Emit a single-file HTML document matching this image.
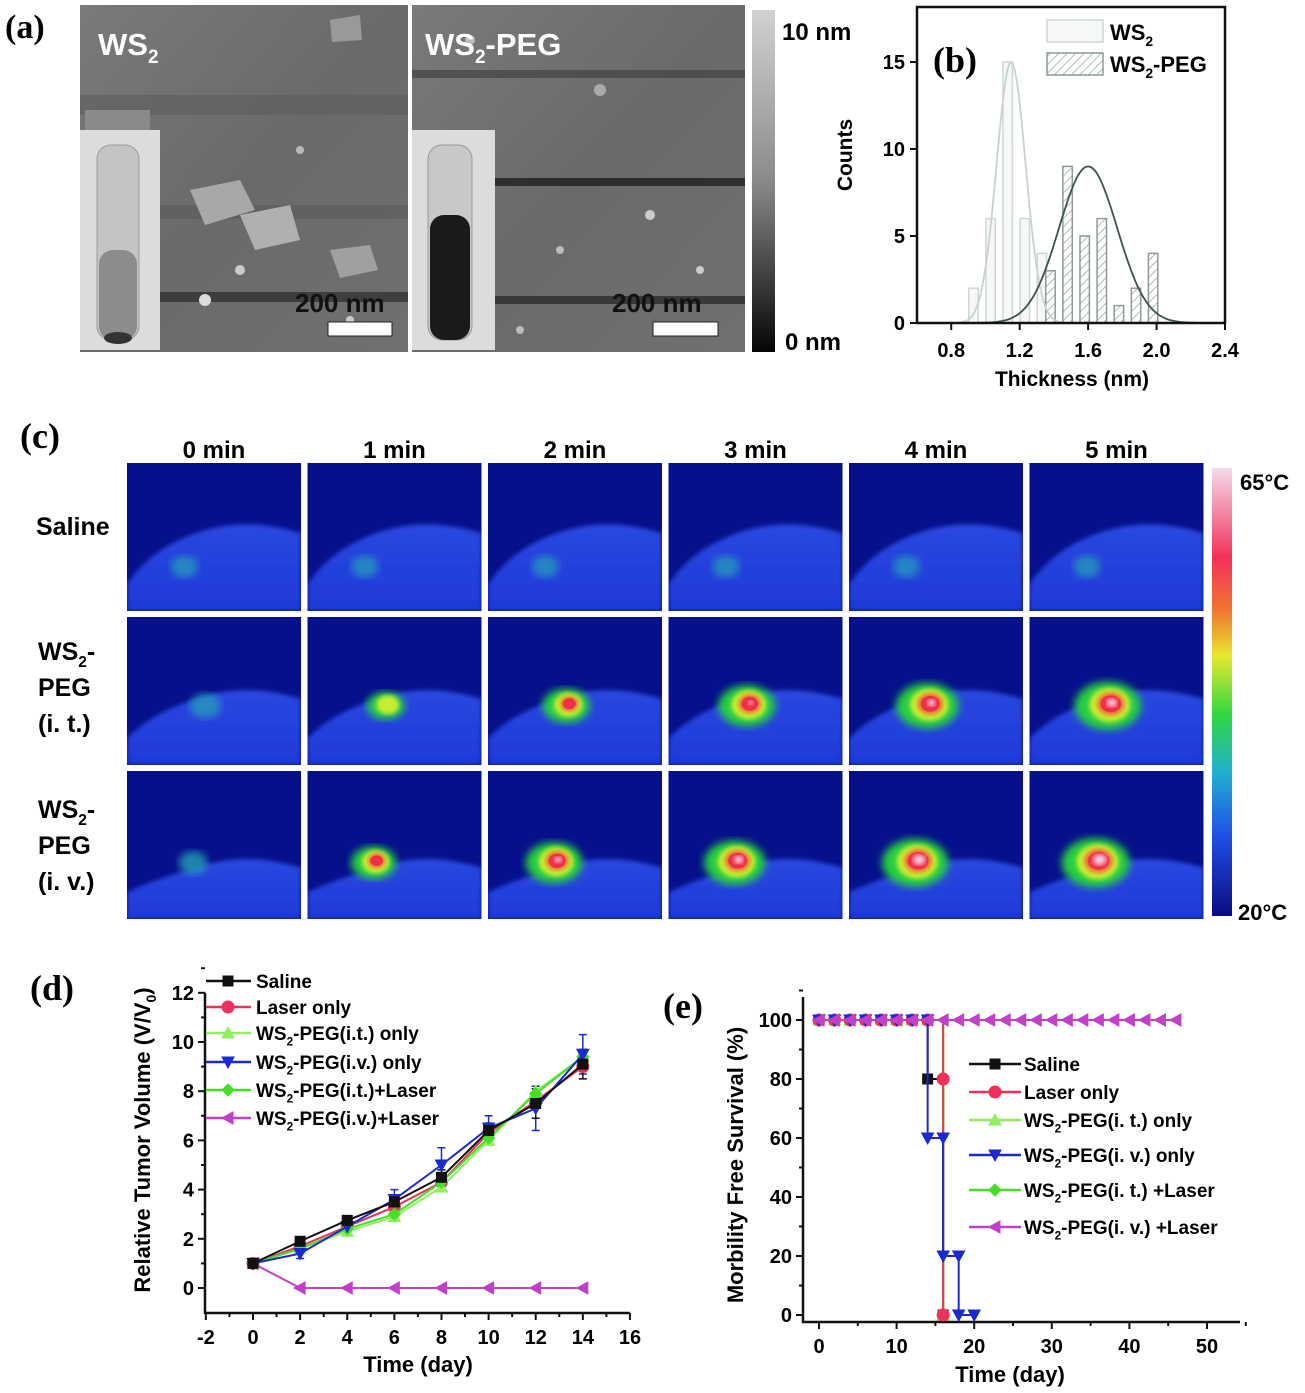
<!DOCTYPE html>
<html><head><meta charset="utf-8">
<style>
html,body{margin:0;padding:0;background:#fff;}
svg{display:block;font-family:"Liberation Sans",Arial,sans-serif;}
.b{font-weight:bold;}
.serif{font-family:"Liberation Serif",serif;font-weight:bold;}
</style></head>
<body>
<svg id="fig" width="1305" height="1393" viewBox="0 0 1305 1393" xmlns="http://www.w3.org/2000/svg">
<defs>
  <linearGradient id="afmBar" x1="0" y1="0" x2="0" y2="1">
    <stop offset="0" stop-color="#d2d2d2"/><stop offset="0.5" stop-color="#8a8a8a"/><stop offset="1" stop-color="#050505"/>
  </linearGradient>
  <linearGradient id="afmBg" x1="0" y1="0" x2="1" y2="1">
    <stop offset="0" stop-color="#7a7a7a"/><stop offset="0.5" stop-color="#6a6a6a"/><stop offset="1" stop-color="#707070"/>
  </linearGradient>
  <linearGradient id="heatBar" x1="0" y1="0" x2="0" y2="1">
    <stop offset="0" stop-color="#f4dcec"/><stop offset="0.2" stop-color="#f2305a"/><stop offset="0.32" stop-color="#f07830"/>
    <stop offset="0.42" stop-color="#e8e830"/><stop offset="0.55" stop-color="#30d840"/><stop offset="0.68" stop-color="#20b0d0"/>
    <stop offset="0.82" stop-color="#2050e8"/><stop offset="1" stop-color="#0a0a80"/>
  </linearGradient>
  <linearGradient id="bodyGrad" x1="0" y1="0" x2="0" y2="1">
    <stop offset="0" stop-color="#2a48e0"/><stop offset="1" stop-color="#1e3ad8"/>
  </linearGradient>
  <pattern id="hatch" width="6" height="6" patternUnits="userSpaceOnUse" patternTransform="rotate(45)">
    <rect width="6" height="6" fill="#fff"/><line x1="0" y1="0" x2="0" y2="6" stroke="#9aa6a6" stroke-width="1.5"/>
  </pattern>
  <filter id="blur2"><feGaussianBlur stdDeviation="2"/></filter>
  <filter id="blur4"><feGaussianBlur stdDeviation="4"/></filter>
</defs>

<!-- Panel a -->
<g>
  <text class="serif" x="5" y="38" font-size="34">(a)</text>
  <g>
    <rect x="80" y="5" width="328" height="347" fill="url(#afmBg)"/>
    <rect x="80" y="95" width="328" height="20" fill="#5e5e5e" opacity="0.6"/>
    <rect x="80" y="205" width="328" height="14" fill="#5a5a5a" opacity="0.6"/>
    <rect x="160" y="292" width="248" height="10" fill="#2a2a2a" opacity="0.7"/>
    <polygon points="190,190 240,180 255,210 205,225" fill="#a8a8a8"/>
    <polygon points="240,215 290,205 300,240 255,250" fill="#b0b0b0"/>
    <polygon points="330,250 370,245 378,270 340,278" fill="#a0a0a0"/>
    <polygon points="85,110 150,110 150,140 85,140" fill="#8a8a8a"/>
    <polygon points="330,20 360,15 362,40 332,42" fill="#999"/>
    <circle cx="205" cy="300" r="6" fill="#ddd"/><circle cx="240" cy="270" r="5" fill="#ccc"/>
    <circle cx="300" cy="150" r="4" fill="#bbb"/><circle cx="350" cy="320" r="4" fill="#ccc"/>
    <rect x="80" y="130" width="80" height="220" fill="#dcdcdc"/>
    <rect x="97" y="145" width="42" height="195" rx="14" fill="#c4c4c4" stroke="#9a9a9a"/>
    <rect x="99" y="250" width="38" height="90" rx="14" fill="#8c8c8c"/>
    <ellipse cx="118" cy="338" rx="14" ry="6" fill="#333"/>
    <text class="b" x="98" y="55" font-size="31" fill="#fff">WS<tspan font-size="19" dy="8">2</tspan></text>
    <text class="b" x="295" y="312" font-size="26" fill="#111">200 nm</text>
    <rect x="328" y="322" width="64" height="14" fill="#fff" stroke="#222"/>
  </g>
  <g>
    <rect x="412" y="5" width="333" height="347" fill="url(#afmBg)"/>
    <rect x="412" y="70" width="333" height="8" fill="#3a3a3a" opacity="0.6"/>
    <rect x="495" y="178" width="250" height="8" fill="#1e1e1e" opacity="0.8"/>
    <rect x="412" y="296" width="333" height="8" fill="#222" opacity="0.7"/>
    <circle cx="470" cy="40" r="5" fill="#bbb"/><circle cx="600" cy="90" r="6" fill="#aaa"/>
    <circle cx="650" cy="215" r="5" fill="#ccc"/><circle cx="560" cy="250" r="4" fill="#bbb"/>
    <circle cx="700" cy="270" r="4" fill="#ccc"/><circle cx="520" cy="330" r="4" fill="#bbb"/>
    <rect x="412" y="130" width="83" height="220" fill="#dcdcdc"/>
    <rect x="428" y="145" width="44" height="195" rx="14" fill="#c8c8c8" stroke="#999"/>
    <rect x="430" y="215" width="40" height="125" rx="14" fill="#1a1a1a"/>
    <text class="b" x="425" y="55" font-size="31" fill="#fff">WS<tspan font-size="19" dy="8">2</tspan><tspan dy="-8">-PEG</tspan></text>
    <text class="b" x="612" y="312" font-size="26" fill="#111">200 nm</text>
    <rect x="653" y="322" width="65" height="14" fill="#fff" stroke="#222"/>
  </g>
  <rect x="752" y="10" width="23" height="342" fill="url(#afmBar)"/>
  <text class="b" x="782" y="40" font-size="24">10 nm</text>
  <text class="b" x="785" y="350" font-size="24">0 nm</text>
</g>

<!-- Panel b -->
<g id="panelB"></g>
<!-- Panel c -->
<g id="panelC"></g>
<!-- Panel d -->
<g id="panelD"></g>
<!-- Panel e -->
<g id="panelE"></g>
</svg>

<script>
// ---------- Panel b data ----------
const bWs2Centers = [0.93, 1.03, 1.13, 1.23, 1.33];
const bWs2Counts = [2, 6, 15, 6, 4];
const bPegCenters = [1.38, 1.48, 1.58, 1.68, 1.78, 1.88, 1.98];
const bPegCounts = [3, 9, 5, 6, 1, 2, 4];
const bXTicks = [0.8, 1.2, 1.6, 2.0, 2.4];
const bYTicks = [0, 5, 10, 15];
const bWs2Fit = [1.15, 15, 0.085];   // center, peak, sigma
const bPegFit = [1.6, 9, 0.17];

// ---------- Panel c data ----------
const cTimes = ["0 min", "1 min", "2 min", "3 min", "4 min", "5 min"];
const cRows = ["Saline", "WS2-PEG (i. t.)", "WS2-PEG (i. v.)"];
const cHeatSaline = [0.4, 0.4, 0.4, 0.4, 0.4, 0.4];
const cHeatIT = [0.5, 2, 3, 4, 4.6, 5];
const cHeatIV = [0.8, 3.2, 4.5, 5, 5.6, 5.8];

// ---------- Panel d data ----------
const dDays = [0, 2, 4, 6, 8, 10, 12, 14];
const dSaline = [1, 1.9, 2.75, 3.5, 4.5, 6.4, 7.5, 9.1];
const dLaser = [1, 1.7, 2.5, 3.3, 4.3, 6.3, 7.6, 9.0];
const dItOnly = [1, 1.6, 2.3, 2.9, 4.1, 6.0, 8.0, 9.4];
const dIvOnly = [1, 1.4, 2.5, 3.6, 5.0, 6.5, 7.3, 9.5];
const dItLaser = [1, 1.6, 2.4, 3.0, 4.3, 6.1, 7.9, 9.4];
const dIvLaser = [1, 0, 0, 0, 0, 0, 0, 0];
const dIvOnlyErr = [0, 0.2, 0.2, 0.4, 0.7, 0.5, 0.9, 0.8];
const dSalineErr = [0, 0.1, 0.15, 0.2, 0.3, 0.3, 0.6, 0.6];
const dXTicks = [-2, 0, 2, 4, 6, 8, 10, 12, 14, 16];
const dYTicks = [0, 2, 4, 6, 8, 10, 12];

// ---------- Panel e data ----------
const eSalineDays = [0, 2, 4, 6, 8, 10, 12, 14, 14, 16];
const eSalineVals = [100, 100, 100, 100, 100, 100, 100, 100, 80, 0];
const eLaserDays = [0, 2, 4, 6, 8, 10, 12, 14, 16, 16];
const eLaserVals = [100, 100, 100, 100, 100, 100, 100, 100, 80, 0];
const eItOnlyDays = [0, 2, 4, 6, 8, 10, 12, 14, 16];
const eItOnlyVals = [100, 100, 100, 100, 100, 100, 100, 100, 0];
const eIvOnlyDays = [0, 2, 4, 6, 8, 10, 12, 14, 14, 16, 16, 18, 18, 20];
const eIvOnlyVals = [100, 100, 100, 100, 100, 100, 100, 100, 60, 60, 20, 20, 0, 0];
const eItLaserDays = [0, 2, 4, 6, 8, 10, 12, 14, 16];
const eItLaserVals = [100, 100, 100, 100, 100, 100, 100, 100, 0];
const eIvLaserDays = [0, 2, 4, 6, 8, 10, 12, 14, 16, 18, 20, 22, 24, 26, 28, 30, 32, 34, 36, 38, 40, 42, 44, 46];
const eIvLaserVals = [100, 100, 100, 100, 100, 100, 100, 100, 100, 100, 100, 100, 100, 100, 100, 100, 100, 100, 100, 100, 100, 100, 100, 100];
const eXTicks = [0, 10, 20, 30, 40, 50];
const eYTicks = [0, 20, 40, 60, 80, 100];

const NS = "http://www.w3.org/2000/svg";
function mk(parent, tag, attrs, text) {
  const el = document.createElementNS(NS, tag);
  for (const k in attrs) el.setAttribute(k, attrs[k]);
  if (text !== undefined) el.textContent = text;
  parent.appendChild(el);
  return el;
}
function marker(parent, shape, x, y, s, fill, stroke) {
  let el;
  if (shape === "square") el = mk(parent, "rect", {x: x - s, y: y - s, width: 2 * s, height: 2 * s});
  else if (shape === "circle") el = mk(parent, "circle", {cx: x, cy: y, r: s + 1});
  else {
    let pts;
    if (shape === "up") pts = [[x, y - s - 1], [x + s + 1, y + s], [x - s - 1, y + s]];
    else if (shape === "down") pts = [[x, y + s + 1], [x + s + 1, y - s], [x - s - 1, y - s]];
    else if (shape === "left") pts = [[x - s - 1, y], [x + s, y - s - 1], [x + s, y + s + 1]];
    else pts = [[x, y - s - 1], [x + s + 1, y], [x, y + s + 1], [x - s - 1, y]];
    el = mk(parent, "polygon", {points: pts.map(p => p.join(",")).join(" ")});
  }
  el.setAttribute("fill", fill);
  el.setAttribute("stroke", stroke || fill);
  
  
  return el;
}
function subLabel(parent, x, y, size, before, sub, after, anchor) {
  const t = mk(parent, "text", {x: x, y: y, "font-size": size, "font-weight": "bold", "text-anchor": anchor || "start"});
  const a = mk(t, "tspan", {}, before);
  if (sub) {
    mk(t, "tspan", {"font-size": size * 0.62, dy: size * 0.28}, sub);
    mk(t, "tspan", {dy: -size * 0.28}, after);
  }
  return t;
}

// ================= Panel B =================
(function () {
  const g = document.getElementById("panelB");
  const L = 917, R = 1225, T = 7, B = 323;
  const x = v => L + (v - 0.6) / 1.8 * (R - L);
  const y = v => B - v * 17.4;
  const bw = 0.055 / 1.8 * (R - L);
  bWs2Centers.forEach((c, i) => {
    const r = mk(g, "rect", {x: x(c) - bw / 2, y: y(bWs2Counts[i]), width: bw, height: B - y(bWs2Counts[i]), fill: "#f6f8f8", stroke: "#cfd6d6", "stroke-width": 1.5});
    
    
  });
  bPegCenters.forEach((c, i) => {
    const r = mk(g, "rect", {x: x(c) - bw / 2, y: y(bPegCounts[i]), width: bw, height: B - y(bPegCounts[i]), fill: "url(#hatch)", stroke: "#8e9a9a", "stroke-width": 1.5});
    
    
  });
  function fit(p, col, name) {
    let d = "";
    for (let v = 0.6; v <= 2.4001; v += 0.01) {
      const c = p[1] * Math.exp(-Math.pow(v - p[0], 2) / (2 * p[2] * p[2]));
      d += (d ? "L" : "M") + x(v).toFixed(1) + "," + y(c).toFixed(1);
    }
    const pth = mk(g, "path", {d: d, fill: "none", stroke: col, "stroke-width": 1.8});
    
    
  }
  fit(bWs2Fit, "#c8d2d2", "ws2-gaussian-fit");
  fit(bPegFit, "#3e5050", "ws2-peg-gaussian-fit");
  const box = mk(g, "rect", {x: L, y: T, width: R - L, height: B - T, fill: "none", stroke: "#111", "stroke-width": 2.5});
  
  
  bYTicks.forEach(v => {
    mk(g, "line", {x1: L - 7, x2: L, y1: y(v), y2: y(v), stroke: "#111", "stroke-width": 2});
    const t = mk(g, "text", {x: L - 12, y: y(v) + 7, "font-size": 20, "font-weight": "bold", "text-anchor": "end"}, String(v));
    
    
  });
  bXTicks.forEach(v => {
    mk(g, "line", {x1: x(v), x2: x(v), y1: B, y2: B + 7, stroke: "#111", "stroke-width": 2});
    const t = mk(g, "text", {x: x(v), y: B + 34, "font-size": 20, "font-weight": "bold", "text-anchor": "middle"}, v.toFixed(1));
    
    
  });
  const xt = mk(g, "text", {x: 1072, y: 386, "font-size": 21, "font-weight": "bold", "text-anchor": "middle"}, "Thickness (nm)");
  
  
  const yt = mk(g, "text", {x: 0, y: 0, "font-size": 21, "font-weight": "bold", "text-anchor": "middle", transform: "translate(852,155) rotate(-90)"}, "Counts");
  
  
  const pl = mk(g, "text", {x: 933, y: 72, "font-size": 36, class: "serif"}, "(b)");
  
  
  const lg = mk(g, "g", {});
  
  
  mk(lg, "rect", {x: 1047, y: 20, width: 56, height: 22, fill: "#f6f8f8", stroke: "#cfd6d6", "stroke-width": 1.5});
  mk(lg, "rect", {x: 1047, y: 53, width: 56, height: 22, fill: "url(#hatch)", stroke: "#8e9a9a", "stroke-width": 1.5});
  subLabel(lg, 1110, 40, 22, "WS", "2", "");
  subLabel(lg, 1110, 72, 22, "WS", "2", "-PEG");
})();

// ================= Panel C =================
(function () {
  const g = document.getElementById("panelC");
  const pl = mk(g, "text", {x: 20, y: 448, "font-size": 36, class: "serif"}, "(c)");
  
  
  const colX = i => 127 + i * 180.5;
  const cw = 174, ch = 148;
  const rowY = j => 463 + j * 154;
  cTimes.forEach((t, i) => {
    const el = mk(g, "text", {x: colX(i) + cw / 2, y: 458, "font-size": 24, "font-weight": "bold", "text-anchor": "middle"}, t);
    
    
  });
  // row labels
  const rl = mk(g, "text", {x: 36, y: 535, "font-size": 25, "font-weight": "bold"}, "Saline");
  
  
  [[0, 660, "i. t."], [1, 818, "i. v."]].forEach(r => {
    const gg = mk(g, "g", {});
    
    
    subLabel(gg, 38, r[1], 25, "WS", "2", "-");
    mk(gg, "text", {x: 38, y: r[1] + 36, "font-size": 25, "font-weight": "bold"}, "PEG");
    mk(gg, "text", {x: 38, y: r[1] + 72, "font-size": 25, "font-weight": "bold"}, "(" + r[2] + ")");
  });
  const heats = [cHeatSaline, cHeatIT, cHeatIV];
  const spots = [[0.33, 0.7, 0.25], [0.45, 0.6, 0.6], [0.38, 0.62, 0.4]];
  const bodyTop = [0.42, 0.5, 0.6];
  heats.forEach((arr, j) => {
    arr.forEach((lv, i) => {
      const x0 = colX(i), y0 = rowY(j);
      const cell = mk(g, "g", {});
      
      
      const cid = "clip" + j + "_" + i;
      const cp = mk(cell, "clipPath", {id: cid});
      mk(cp, "rect", {x: x0, y: y0, width: cw, height: ch});
      const inner = mk(cell, "g", {"clip-path": "url(#" + cid + ")"});
      mk(inner, "rect", {x: x0, y: y0, width: cw, height: ch, fill: "#06108a"});
      const bt = y0 + bodyTop[j] * ch;
      const d = "M" + x0 + "," + (y0 + ch * 0.82) + " Q" + (x0 + cw * 0.15) + "," + (bt + 20) + " " + (x0 + cw * 0.45) + "," + (bt + 5) +
        " Q" + (x0 + cw * 0.7) + "," + (bt - 8) + " " + (x0 + cw) + "," + (bt + 8) + " L" + (x0 + cw) + "," + (y0 + ch) + " L" + x0 + "," + (y0 + ch) + "Z";
      mk(inner, "path", {d: d, fill: "url(#bodyGrad)", filter: "url(#blur2)"});
      const sx = x0 + spots[j][0] * cw, sy = y0 + spots[j][1] * ch;
      const k = spots[j][2];
      if (lv < 1) {
        mk(inner, "ellipse", {cx: sx, cy: sy, rx: 12 + 6 * k, ry: 10 + 4 * k, fill: "#28a8b8", opacity: 0.6 + 0.2 * lv, filter: "url(#blur4)"});
      } else {
        const s = 0.65 + 0.35 * k;
        mk(inner, "ellipse", {cx: sx, cy: sy, rx: (10 + 5 * lv) * s * 1.1, ry: (8 + 4 * lv) * s, fill: "#28d040", filter: "url(#blur4)"});
        mk(inner, "ellipse", {cx: sx + 2, cy: sy - 1, rx: (6 + 3.6 * lv) * s, ry: (5 + 3 * lv) * s, fill: "#c8ec30", filter: "url(#blur2)"});
        if (lv >= 2.5) mk(inner, "ellipse", {cx: sx + 3, cy: sy - 2, rx: (2 + 2.8 * lv) * s, ry: (2 + 2.3 * lv) * s, fill: "#f07030", filter: "url(#blur2)"});
        if (lv >= 2.5) mk(inner, "ellipse", {cx: sx + 3, cy: sy - 2, rx: (1 + 2.2 * lv) * s, ry: (1 + 1.8 * lv) * s, fill: "#f0304a"});
        if (lv >= 4) mk(inner, "ellipse", {cx: sx + 4, cy: sy - 3, rx: (lv - 3) * 3 * s, ry: (lv - 3) * 2.4 * s, fill: "#f2c8dc", filter: "url(#blur2)"});
      }
    });
  });
  const cb = mk(g, "rect", {x: 1212, y: 468, width: 20, height: 448, fill: "url(#heatBar)"});
  
  
  const t1 = mk(g, "text", {x: 1240, y: 490, "font-size": 22, "font-weight": "bold"}, "65°C");
  
  
  const t2 = mk(g, "text", {x: 1238, y: 920, "font-size": 22, "font-weight": "bold"}, "20°C");
  
  
})();

// shared series styles
const styles = [
  {name: "Saline", shape: "square", col: "#111111"},
  {name: "Laser only", shape: "circle", col: "#f0305a"},
  {name: "it-only", shape: "up", col: "#90ee60"},
  {name: "iv-only", shape: "down", col: "#1a2ad0"},
  {name: "it-laser", shape: "diamond", col: "#44e028"},
  {name: "iv-laser", shape: "left", col: "#c040c8"}
];

// ================= Panel D =================
(function () {
  const g = document.getElementById("panelD");
  const L = 205, R = 630, B = 1313;
  const x = v => 253 + v * 23.56;
  const y = v => 1288 - v * 24.6;
  const pl = mk(g, "text", {x: 30, y: 1000, "font-size": 36, class: "serif"}, "(d)");
  
  
  // axes
  const ax = mk(g, "path", {d: "M" + L + "," + y(12) + " L" + L + "," + B + " L" + R + "," + B, fill: "none", stroke: "#111", "stroke-width": 2.5});
  
  
  dYTicks.forEach(v => {
    mk(g, "line", {x1: L - 7, x2: L, y1: y(v), y2: y(v), stroke: "#111", "stroke-width": 2});
    mk(g, "line", {x1: L - 4, x2: L, y1: y(v + 1), y2: y(v + 1), stroke: "#111", "stroke-width": 2});
    const t = mk(g, "text", {x: L - 11, y: y(v) + 7, "font-size": 20, "font-weight": "bold", "text-anchor": "end"}, String(v));
    
    
  });
  dXTicks.forEach(v => {
    mk(g, "line", {x1: x(v), x2: x(v), y1: B, y2: B + 7, stroke: "#111", "stroke-width": 2});
    if (v < 16) mk(g, "line", {x1: x(v + 1), x2: x(v + 1), y1: B, y2: B + 4, stroke: "#111", "stroke-width": 2});
    const t = mk(g, "text", {x: x(v), y: B + 31, "font-size": 20, "font-weight": "bold", "text-anchor": "middle"}, String(v));
    
    
  });
  const xt = mk(g, "text", {x: 418, y: 1372, "font-size": 22, "font-weight": "bold", "text-anchor": "middle"}, "Time (day)");
  
  
  const yt = mk(g, "text", {x: 0, y: 0, "font-size": 22, "font-weight": "bold", "text-anchor": "middle", transform: "translate(150,1140) rotate(-90)"});
  
  
  mk(yt, "tspan", {}, "Relative Tumor Volume (V/V");
  mk(yt, "tspan", {"font-size": 14, dy: 6}, "0");
  mk(yt, "tspan", {dy: -6}, ")");
  // error bars
  [[dIvOnly, dIvOnlyErr, "#1a2ad0"], [dSaline, dSalineErr, "#111"]].forEach(s => {
    dDays.forEach((d, i) => {
      if (!s[1][i]) return;
      const e = mk(g, "path", {d: "M" + x(d) + "," + y(s[0][i] - s[1][i]) + " V" + y(s[0][i] + s[1][i]) + " M" + (x(d) - 4) + "," + y(s[0][i] + s[1][i]) + " h8 M" + (x(d) - 4) + "," + y(s[0][i] - s[1][i]) + " h8", stroke: s[2], "stroke-width": 1.5, fill: "none"});
      
      
    });
  });
  const series = [dSaline, dLaser, dItOnly, dIvOnly, dItLaser, dIvLaser];
  const drawOrder = [5, 1, 2, 4, 3, 0];
  drawOrder.forEach(si => {
    const st = styles[si], vals = series[si];
    const sg = mk(g, "g", {});
    
    
    mk(sg, "polyline", {points: dDays.map((d, i) => x(d) + "," + y(vals[i])).join(" "), fill: "none", stroke: st.col, "stroke-width": 2});
    dDays.forEach((d, i) => marker(sg, st.shape, x(d), y(vals[i]), 5, st.col));
  });
  // legend
  const lg = mk(g, "g", {});
  
  
  const rows = [981, 1007, 1033, 1062, 1090, 1118];
  const labels = [["Saline"], ["Laser only"], ["WS", "2", "-PEG(i.t.) only"], ["WS", "2", "-PEG(i.v.) only"], ["WS", "2", "-PEG(i.t.)+Laser"], ["WS", "2", "-PEG(i.v.)+Laser"]];
  rows.forEach((ry, i) => {
    const st = styles[i];
    mk(lg, "line", {x1: 206, x2: 251, y1: ry, y2: ry, stroke: st.col, "stroke-width": 2.5});
    marker(lg, st.shape, 228, ry, 5, st.col);
    const lb = labels[i];
    subLabel(lg, 256, ry + 7, 19, lb[0], lb[1], lb[2]);
  });
})();

// ================= Panel E =================
(function () {
  const g = document.getElementById("panelE");
  const L = 803, R = 1240, B = 1322, T = 997;
  const x = v => 819 + v * 7.76;
  const y = v => 1315 - v * 2.95;
  const pl = mk(g, "text", {x: 663, y: 1018, "font-size": 36, class: "serif"}, "(e)");
  
  
  const ax = mk(g, "path", {d: "M" + L + "," + T + " L" + L + "," + B + " L" + R + "," + B, fill: "none", stroke: "#111", "stroke-width": 2.5});
  
  
  eYTicks.forEach(v => {
    mk(g, "line", {x1: L - 7, x2: L, y1: y(v), y2: y(v), stroke: "#111", "stroke-width": 2});
    mk(g, "line", {x1: L - 4, x2: L, y1: y(v + 10), y2: y(v + 10), stroke: "#111", "stroke-width": 2});
    const t = mk(g, "text", {x: L - 11, y: y(v) + 7, "font-size": 20, "font-weight": "bold", "text-anchor": "end"}, String(v));
    
    
  });
  eXTicks.forEach(v => {
    mk(g, "line", {x1: x(v), x2: x(v), y1: B, y2: B + 7, stroke: "#111", "stroke-width": 2});
    mk(g, "line", {x1: x(v + 5), x2: x(v + 5), y1: B, y2: B + 4, stroke: "#111", "stroke-width": 2});
    const t = mk(g, "text", {x: x(v), y: B + 31, "font-size": 20, "font-weight": "bold", "text-anchor": "middle"}, String(v));
    
    
  });
  const xt = mk(g, "text", {x: 1010, y: 1382, "font-size": 22, "font-weight": "bold", "text-anchor": "middle"}, "Time (day)");
  
  
  const yt = mk(g, "text", {x: 0, y: 0, "font-size": 22, "font-weight": "bold", "text-anchor": "middle", transform: "translate(743,1165) rotate(-90)"}, "Morbility Free Survival (%)");
  
  
  const series = [[eSalineDays, eSalineVals], [eLaserDays, eLaserVals], [eItOnlyDays, eItOnlyVals], [eIvOnlyDays, eIvOnlyVals], [eItLaserDays, eItLaserVals], [eIvLaserDays, eIvLaserVals]];
  [0, 2, 4, 1, 3, 5].forEach(si => {
    const st = styles[si], ds = series[si][0], vs = series[si][1];
    const sg = mk(g, "g", {});
    
    
    let d = "M" + x(ds[0]) + "," + y(vs[0]);
    for (let i = 1; i < ds.length; i++) d += " H" + x(ds[i]) + " V" + y(vs[i]);
    mk(sg, "path", {d: d, fill: "none", stroke: st.col, "stroke-width": 2});
    ds.forEach((dd, i) => marker(sg, st.shape, x(dd), y(vs[i]), 5, st.col));
  });
  const lg = mk(g, "g", {});
  
  
  const rows = [1064, 1092, 1120, 1155, 1190, 1227];
  const labels = [["Saline"], ["Laser only"], ["WS", "2", "-PEG(i. t.) only"], ["WS", "2", "-PEG(i. v.) only"], ["WS", "2", "-PEG(i. t.) +Laser"], ["WS", "2", "-PEG(i. v.) +Laser"]];
  rows.forEach((ry, i) => {
    const st = styles[i];
    mk(lg, "line", {x1: 969, x2: 1021, y1: ry, y2: ry, stroke: st.col, "stroke-width": 2.5});
    marker(lg, st.shape, 995, ry, 5, st.col);
    const lb = labels[i];
    subLabel(lg, 1024, ry + 7, 19, lb[0], lb[1], lb[2]);
  });
})();
</script>
</body></html>
